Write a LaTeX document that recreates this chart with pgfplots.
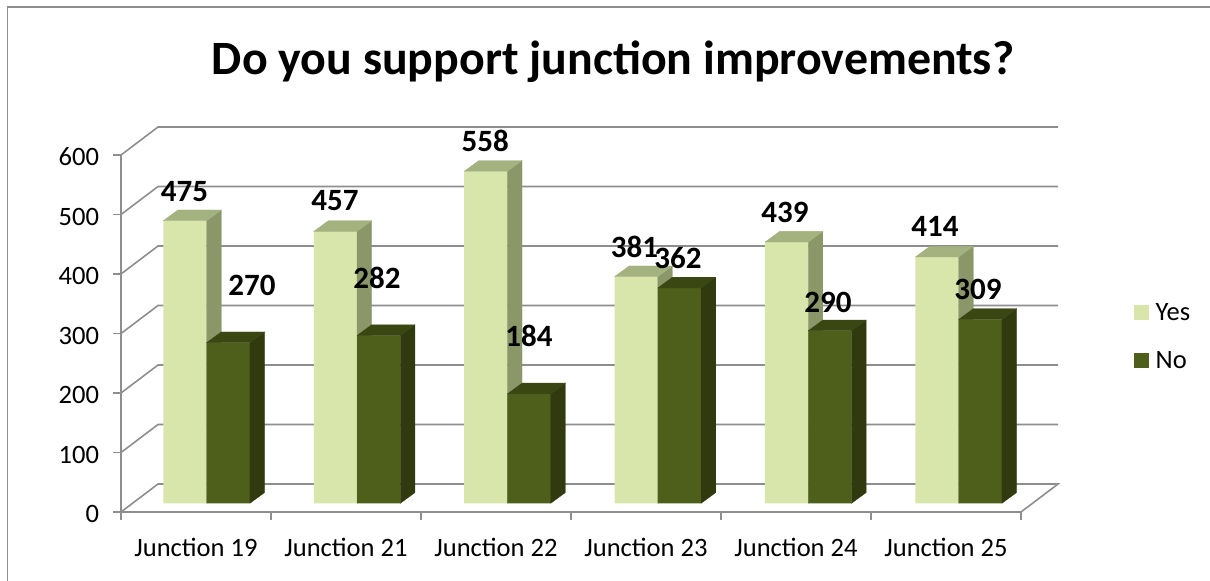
\documentclass[border=0pt]{standalone}
\usepackage{pgfplots}
\usepackage{pgfplotstable}
\usepackage{fontspec}
\setmainfont{Carlito}
\pgfplotsset{compat=1.18}
\definecolor{yesF}{HTML}{D8E6AB}
\definecolor{yesS}{HTML}{8B9769}
\definecolor{yesT}{HTML}{A4B27F}
\definecolor{noF}{HTML}{4D5F1A}
\definecolor{noS}{HTML}{31390F}
\definecolor{noT}{HTML}{3A4712}
\definecolor{gridc}{HTML}{8E8E8E}
\pgfplotstableread{
pos yes
185.0 475
335.4 457
485.8 558
636.2 381
786.6 439
937.0 414
}\yesdata
\pgfplotstableread{
pos no
228.3 270
378.7 282
529.1 184
679.5 362
829.9 290
980.3 309
}\nodata
% depth faces of one bar: row, table, column, side colour, top colour
\newcommand\barfaces[5]{%
  \pgfplotstablegetelem{#1}{pos}\of{#2}\let\cx\pgfplotsretval
  \pgfplotstablegetelem{#1}{#3}\of{#2}\let\cv\pgfplotsretval
  \pgfmathsetmacro\xl{\cx-21.65}\pgfmathsetmacro\xr{\cx+21.65}%
  \pgfmathsetmacro\xsl{\xl+14.6}\pgfmathsetmacro\xsr{\xr+14.6}%
  \pgfmathsetmacro\vt{\cv+18}%
  \edef\temp{\noexpand\addplot[forget plot,fill=#4,draw=#4,line width=0.2pt] coordinates {(\xr,0)(\xsr,18)(\xsr,\vt)(\xr,\cv)} --cycle;
  \noexpand\addplot[forget plot,fill=#5,draw=#5,line width=0.2pt] coordinates {(\xl,\cv)(\xsl,\vt)(\xsr,\vt)(\xr,\cv)} --cycle;}\temp
}
\begin{document}
\begin{tikzpicture}[x=0.75pt,y=0.75pt]
\path[use as bounding box] (0,0) rectangle (1210,581);
\draw[gridc,line width=1.2pt] (7.3,0) -- (7.3,{581-7.3}) -- (1210,{581-7.3});
\node[font=\bfseries\fontsize{35.9pt}{42pt}\selectfont,inner sep=0] at (613,{581-62}) {Do you support junction improvements?};
\begin{axis}[
  at={(90.75pt,51.75pt)},anchor=south west,
  scale only axis,width=675pt,height=267.75pt,
  xmin=121,xmax=1021,ymin=0,ymax=600,clip=false,
  axis x line=bottom,axis y line=left,
  axis line style={-,gridc,line width=1.2pt},
  tick style={gridc,line width=1pt},
  tick align=outside,major tick length=6pt,
  xtick={121,271,421,571,721,871,1021},
  x tick label as interval=true,
  xticklabels={Junction 19,Junction 21,Junction 22,Junction 23,Junction 24,Junction 25},
  ytick={0,100,...,600},
  /pgf/number format/assume math mode=true,
  tick label style={font=\fontsize{19.9pt}{23pt}\selectfont},
  xticklabel style={yshift=-10pt},
  yticklabel style={xshift=-7pt,yshift=-1.5pt},
]
\pgfplotsinvokeforeach{100,200,300,400,500,600}{
  \addplot[gridc,line width=1.2pt,forget plot] coordinates {(121,#1)(158,#1+47)(1058,#1+47)};
}
\addplot[gridc,line width=1.2pt,forget plot] coordinates {(121,0)(158,47)(1058,47)(1021,0)};
\end{axis}
\begin{axis}[
  at={(90.75pt,58.275pt)},anchor=south west,
  scale only axis,width=675pt,height=267.75pt,
  xmin=121,xmax=1021,ymin=0,ymax=600,clip=false,
  axis lines=none,
  legend style={at={(1.1256,0.56)},anchor=north west,draw=none,fill=none,inner sep=0pt,outer sep=0pt,
    font=\fontsize{19.9pt}{23pt}\selectfont,row sep=21.75pt,column sep=5pt,
    nodes={inner sep=0pt,outer sep=0pt}},
  legend cell align=left,
  legend image code/.code={\fill[#1] (0pt,-5.6pt) rectangle (11.2pt,5.6pt);},
]
\addplot[ybar,bar width=43.3,bar shift=0pt,fill=yesF,draw=none] table[x=pos,y=yes] {\yesdata};
\addlegendentry{Yes}
\pgfplotsinvokeforeach{0,...,5}{\barfaces{#1}{\yesdata}{yes}{yesS}{yesT}}
\addplot[ybar,bar width=43.3,bar shift=0pt,fill=noF,draw=none] table[x=pos,y=no] {\nodata};
\addlegendentry{No}
\pgfplotsinvokeforeach{0,...,5}{\barfaces{#1}{\nodata}{no}{noS}{noT}}
\end{axis}
\begin{scope}[every node/.style={font=\bfseries\fontsize{23.25pt}{28pt}\selectfont,inner sep=0}]
\node at (184.5,{581-191.3}) {475};
\node at (252,{581-285}) {270};
\node at (335,{581-201}) {457};
\node at (377,{581-278}) {282};
\node at (485.3,{581-141.3}) {558};
\node at (529,{581-336}) {184};
\node at (634.5,{581-247}) {381};
\node at (678,{581-258}) {362};
\node at (785,{581-212}) {439};
\node at (828,{581-302}) {290};
\node at (935,{581-226}) {414};
\node at (978,{581-289}) {309};
\end{scope}
\end{tikzpicture}
\end{document}
